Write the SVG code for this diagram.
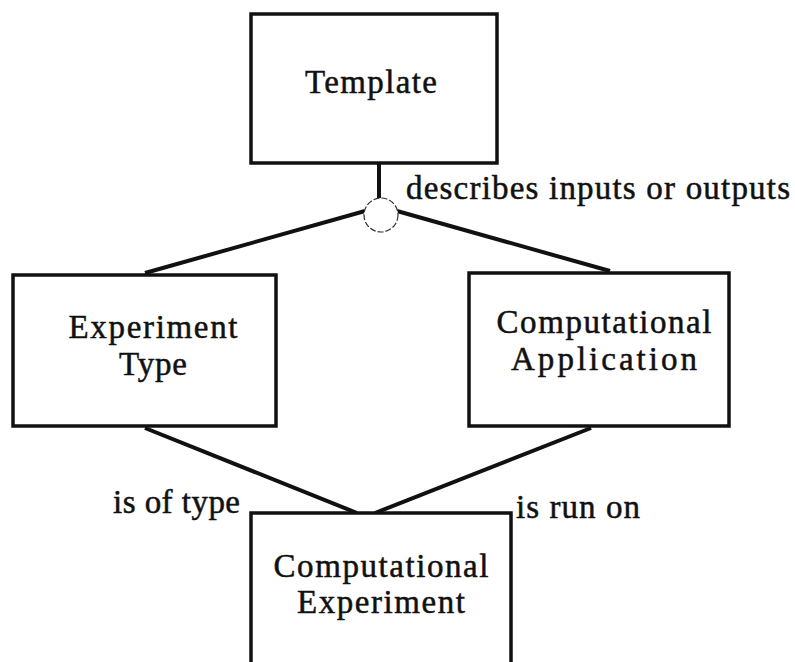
<svg xmlns="http://www.w3.org/2000/svg" width="795" height="662" viewBox="0 0 795 662">
  <style>
    .box { fill: #fff; stroke: #111; stroke-width: 3.5; }
    .lbl, .rel { font-family: "Liberation Serif", "Times New Roman", serif; font-size: 33px; fill: #111; stroke: #111; stroke-width: 0.5; }
    .lbl { text-anchor: middle; }
    .link { stroke: #111; stroke-width: 4; fill: none; }
  </style>
  <rect width="795" height="662" fill="#fff"/>

  <g id="connectors">
    <line class="link" x1="379" y1="163" x2="379" y2="198"/>
    <line class="link" x1="365" y1="211" x2="145" y2="273"/>
    <line class="link" x1="397" y1="211" x2="610" y2="271"/>
    <line class="link" x1="145" y1="428" x2="357" y2="513"/>
    <line class="link" x1="591" y1="428" x2="375" y2="513"/>
    <circle cx="381" cy="215" r="17" fill="#fff" stroke="#333" stroke-width="1.2" stroke-dasharray="6 2"/>
  </g>

  <g id="template">
    <rect class="box" x="251" y="14" width="246" height="149"/>
    <text class="lbl" x="371" y="93" textLength="132" lengthAdjust="spacing">Template</text>
  </g>

  <g id="experiment-type">
    <rect class="box" x="13" y="275" width="263" height="151"/>
    <text class="lbl" x="153" y="338" textLength="169" lengthAdjust="spacing">Experiment</text>
    <text class="lbl" x="153" y="375" textLength="68" lengthAdjust="spacing">Type</text>
  </g>

  <g id="computational-application">
    <rect class="box" x="469" y="273" width="260" height="153"/>
    <text class="lbl" x="604" y="333" textLength="215" lengthAdjust="spacing">Computational</text>
    <text class="lbl" x="604" y="370" textLength="186" lengthAdjust="spacing">Application</text>
  </g>

  <g id="computational-experiment">
    <rect class="box" x="251" y="513" width="260" height="170"/>
    <text class="lbl" x="381" y="577" textLength="215" lengthAdjust="spacing">Computational</text>
    <text class="lbl" x="381" y="613" textLength="168" lengthAdjust="spacing">Experiment</text>
  </g>

  <g id="relation-labels">
    <text class="rel" x="406" y="199" textLength="384" lengthAdjust="spacing">describes inputs or outputs</text>
    <text class="rel" x="113" y="513" textLength="127" lengthAdjust="spacing">is of type</text>
    <text class="rel" x="516" y="518" textLength="124" lengthAdjust="spacing">is run on</text>
  </g>
</svg>
